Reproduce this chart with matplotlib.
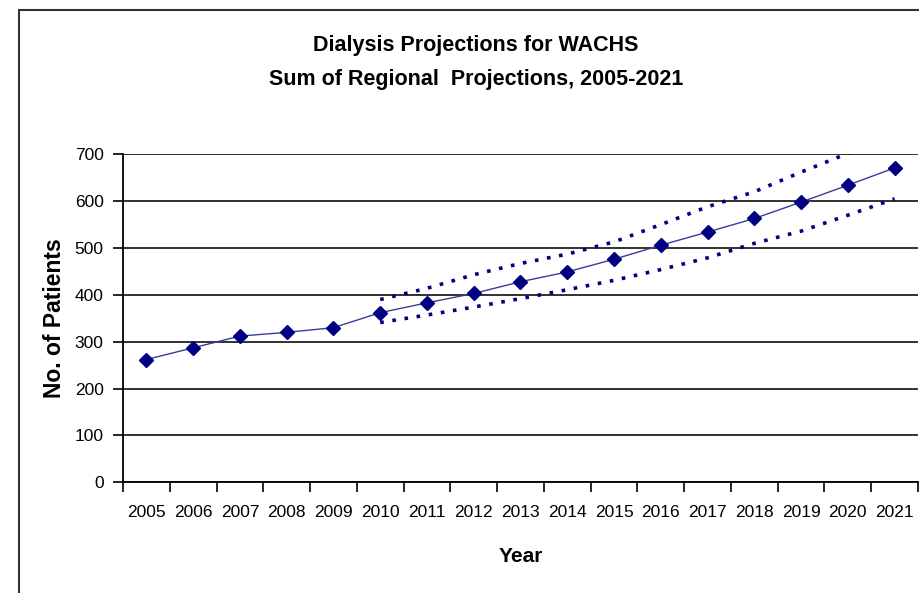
import matplotlib.pyplot as plt
from matplotlib.patches import Rectangle

years = [str(y) for y in range(2005, 2022)]
patients = [262, 287, 312, 320, 330, 362, 383, 403, 428, 449, 476, 506, 534, 563, 598, 634, 671]
# projection band, starts at 2010
band_years = years[5:]
upper = [390, 414, 443, 467, 487, 513, 550, 588, 620, 662, 702, 745]
lower = [341, 357, 374, 392, 411, 431, 454, 479, 510, 536, 570, 605]

font = ['Liberation Sans', 'DejaVu Sans']

fig = plt.figure(figsize=(9.2, 5.93), dpi=100)
fig.patches.append(Rectangle((19 / 920, -0.05), 1.0, 1 - 10 / 593 + 0.05,
                             transform=fig.transFigure, fill=False,
                             edgecolor='#333333', linewidth=1.5))

ax = fig.add_axes([123 / 920, 1 - 482.3 / 593, 795 / 920, (482.3 - 154.3) / 593])

x = list(range(len(years)))
bx = x[5:]
ax.plot(x, patients, color='#3a3a99', linewidth=1.0, marker='D', markersize=7,
        markerfacecolor='#000080', markeredgecolor='#000080', zorder=4)
ax.plot(bx, upper, color='#000080', linewidth=2.6, linestyle=(0, (1, 2.4)), zorder=3)
ax.plot(bx, lower, color='#000080', linewidth=2.6, linestyle=(0, (1, 2.4)), zorder=3)

ax.set_xlim(-0.5, len(years) - 0.5)
ax.set_ylim(0, 700)
ax.set_yticks(range(0, 701, 100))
ax.set_xticks(x)
ax.set_xticklabels(years)
ax.set_xticks([i - 0.5 for i in range(len(years) + 1)], minor=True)
ax.tick_params(axis='x', which='major', length=0, pad=16)
ax.tick_params(axis='x', which='minor', length=7, width=1.2, color='black')
ax.tick_params(axis='y', length=7, width=1.2, pad=7)
for lab in ax.get_xticklabels() + ax.get_yticklabels():
    lab.set_family(font)
    lab.set_fontsize(12.5)

ax.yaxis.grid(True, color='#222222', linewidth=1.3)
ax.set_axisbelow(True)
ax.spines['top'].set_visible(False)
ax.spines['right'].set_visible(False)
ax.spines['left'].set_linewidth(1.3)
ax.spines['bottom'].set_linewidth(1.3)

fig.text(476 / 920, 1 - 45 / 593, 'Dialysis Projections for WACHS', ha='center', va='center',
         family=font, fontsize=15.5, fontweight='bold')
fig.text(476 / 920, 1 - 80 / 593, 'Sum of Regional  Projections, 2005-2021', ha='center', va='center',
         family=font, fontsize=15.5, fontweight='bold')
fig.text(521 / 920, 1 - 556 / 593, 'Year', ha='center', va='center',
         family=font, fontsize=15, fontweight='bold')
fig.text(55 / 920, 1 - 318 / 593, 'No. of Patients', ha='center', va='center', rotation=90,
         family=font, fontsize=16.5, fontweight='bold')

fig.savefig('out.png', dpi=100)
